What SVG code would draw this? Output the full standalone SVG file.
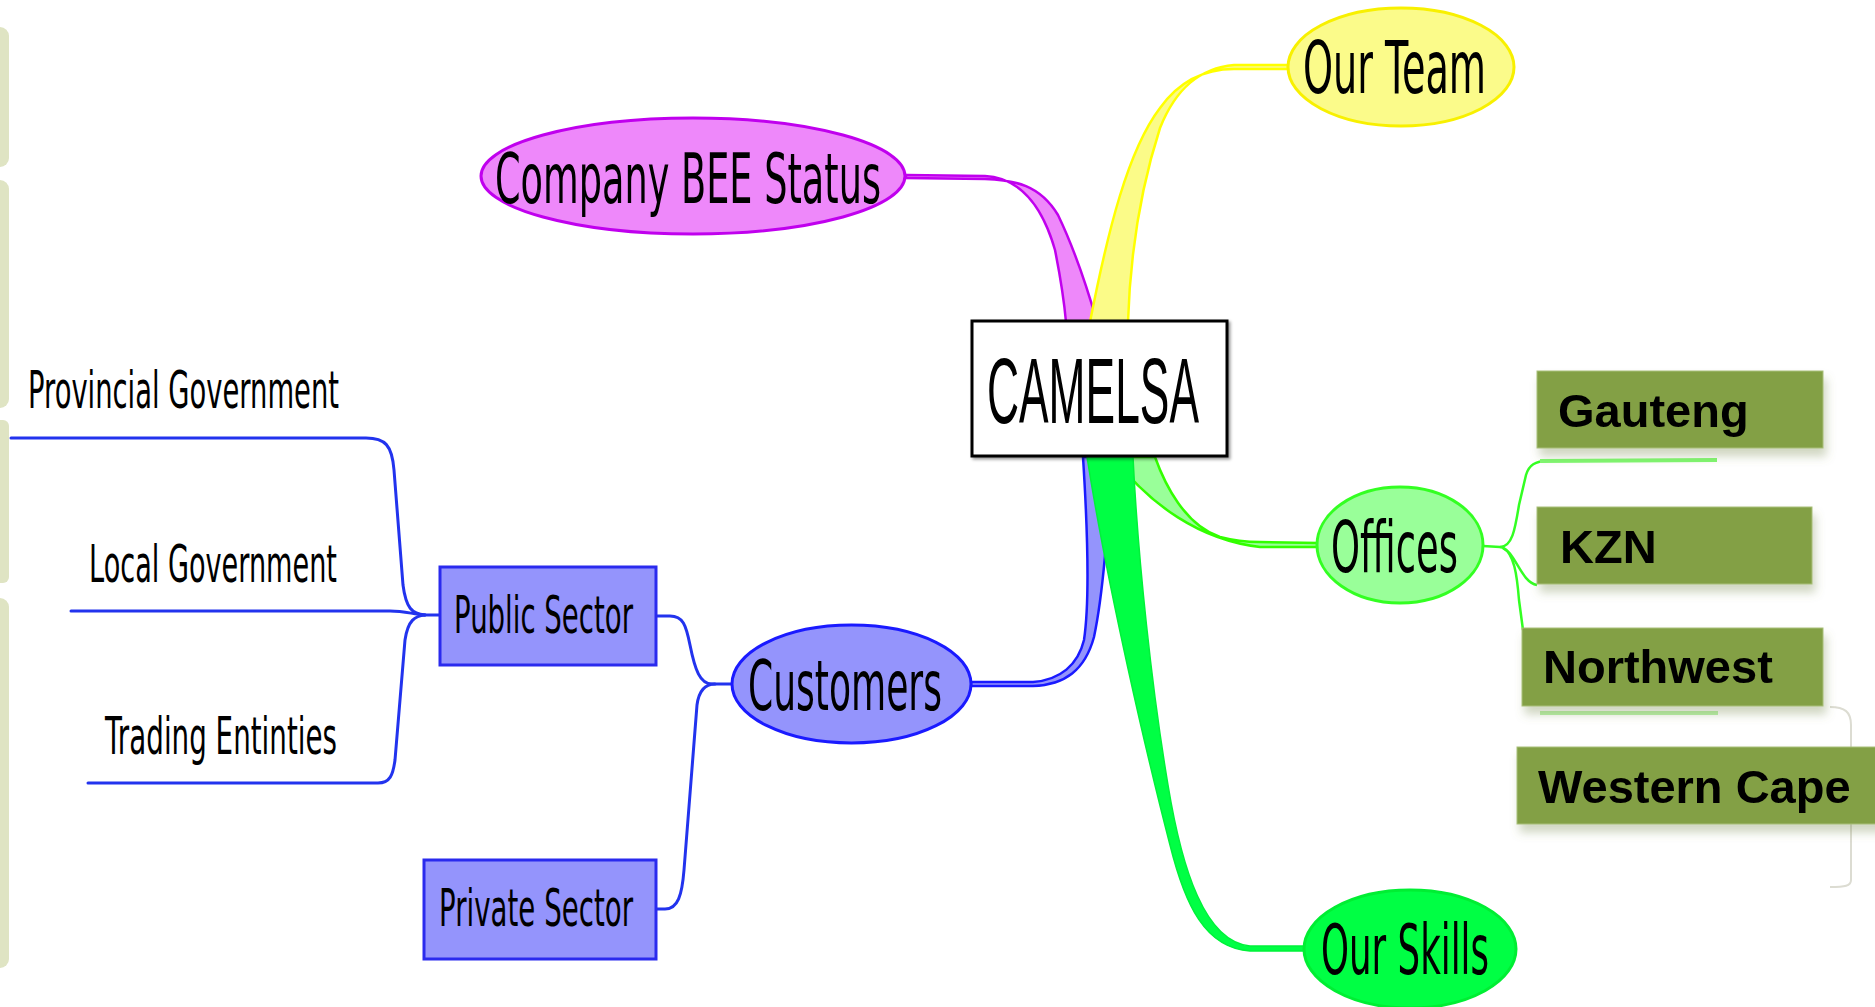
<svg xmlns="http://www.w3.org/2000/svg" width="1875" height="1007" viewBox="0 0 1875 1007">
<style>
.lbl{font-family:"DejaVu Sans","Liberation Sans",sans-serif;fill:#000}
.gbox{fill:#83a044;stroke:#a8bf78;stroke-width:1}
.gtxt{font-family:"Liberation Sans",Arial,sans-serif;font-weight:bold;font-size:47px;fill:#000}
.bl{fill:none;stroke:#2233ee;stroke-width:3;stroke-linecap:round}
.gl{fill:none;stroke:#33ff22;stroke-width:2.5}
.strip{fill:#dfe4c3}
</style>
<defs>
<filter id="sh" x="-10%" y="-20%" width="130%" height="160%">
<feDropShadow dx="3" dy="8" stdDeviation="5" flood-color="#7a8a50" flood-opacity="0.35"/>
</filter>
<filter id="bsh" x="-5%" y="-5%" width="115%" height="120%">
<feDropShadow dx="2" dy="2" stdDeviation="1.5" flood-color="#000" flood-opacity="0.4"/>
</filter>
</defs>
<rect width="1875" height="1007" fill="#fff"/>
<g id="decor">
<rect class="strip" x="-12" y="27" width="21" height="140" rx="9"/>
<rect class="strip" x="-12" y="180" width="21" height="228" rx="9"/>
<rect class="strip" x="-12" y="420" width="21" height="163" rx="6"/>
<rect class="strip" x="-12" y="598" width="21" height="370" rx="9"/>
<path d="M1830,707 C1845,707 1851,712 1851,725 L1851,880 C1851,886 1845,887 1830,887" fill="none" stroke="#dcdcd2" stroke-width="2"/>
</g>
<g id="connectors">
<path class="bl" d="M11,438 L366,438 C385,438 392,445 394,470 L403,585 C406,608 412,614 425,615 L440,615"/>
<path class="bl" d="M71,611 L390,611 C405,611 412,614 425,615"/>
<path class="bl" d="M88,783 L378,783 C390,783 393,775 395,760 L405,640 C408,620 415,616 425,615"/>
<path class="bl" d="M656,616 L670,616 C683,616 686,625 690,645 C695,670 700,684 712,684 L733,684"/>
<path class="bl" d="M656,909 L665,909 C678,909 682,895 684,870 L697,705 C699,690 705,684 715,684"/>
<path d="M971,682 L1033,682 C1060,680 1078,665 1084,640 C1090,600 1087,520 1083,457 L1112,457 C1108,520 1104,590 1094,637 C1085,670 1065,685 1033,686 L971,686 Z" fill="#9494fc" stroke="#1a1aff" stroke-width="2.5"/>
<path d="M1155,457 C1165,485 1185,525 1220,537 C1235,541 1245,542 1260,542 L1318,543 L1318,547 L1260,547 C1200,540 1150,505 1113,457 Z" fill="#99ff99" stroke="#33ff00" stroke-width="2.5"/>
<path d="M1087,457 L1133,457 C1138,560 1152,690 1168,785 C1182,870 1205,942 1250,946 L1305,946 L1305,951 L1250,951 C1205,948 1185,905 1170,845 C1148,760 1108,590 1087,457 Z" fill="#00ff44" stroke="#00f23a" stroke-width="1.5"/>
<path d="M906,175 L985,176 C1025,178 1045,215 1055,250 C1060,275 1064,300 1066,322 L1097,322 C1085,280 1070,240 1058,215 C1040,185 1015,180 985,179 L906,178 Z" fill="#ee88fa" stroke="#c000ee" stroke-width="2.5"/>
<path d="M1288,65 L1234,65 C1200,68 1176,88 1160,128 C1140,190 1130,260 1128,322 L1090,322 C1108,230 1128,150 1160,108 C1180,80 1205,69 1234,69 L1288,69 Z" fill="#fbfb88" stroke="#ffff00" stroke-width="2.5"/>
<path class="gl" d="M1483,546 L1500,547 C1512,547 1515,530 1519,505 L1526,475 C1529,465 1535,461 1548,461"/>
<path d="M1540,461 L1717,460" fill="none" stroke="#80f870" stroke-width="4"/>
<path class="gl" d="M1500,547 C1515,549 1520,582 1537,585"/>
<path class="gl" d="M1503,548 C1514,553 1517,575 1519,600 L1523,630"/>
<path d="M1540,713 L1718,713" fill="none" stroke="#b8f2a8" stroke-width="4"/>
</g>
<g id="node-camelsa">
<rect x="972" y="321" width="255" height="135" fill="#fff" stroke="#000" stroke-width="3" filter="url(#bsh)"/>
<text x="987" y="423" font-family="'Liberation Sans',Arial,sans-serif" font-size="93" textLength="212" lengthAdjust="spacingAndGlyphs" fill="#000">CAMELSA</text>
</g>
<g id="node-bee">
<ellipse cx="693" cy="176" rx="212" ry="58" fill="#ee88fa" stroke="#c000ee" stroke-width="3"/>
<text class="lbl" x="495" y="203" font-size="70" textLength="386" lengthAdjust="spacingAndGlyphs">Company BEE Status</text>
</g>
<g id="node-team">
<ellipse cx="1401" cy="67" rx="113" ry="59" fill="#fbfb8a" stroke="#f8f000" stroke-width="3"/>
<text class="lbl" x="1303" y="93" font-size="73" textLength="183" lengthAdjust="spacingAndGlyphs">Our Team</text>
</g>
<g id="node-offices">
<ellipse cx="1400" cy="545" rx="83" ry="58" fill="#99ff99" stroke="#33ff22" stroke-width="3"/>
<text class="lbl" transform="translate(1331,572) scale(0.518,1)" x="0" y="0" font-size="71" textLength="245" lengthAdjust="spacingAndGlyphs">Offices</text>
</g>
<g id="node-skills">
<ellipse cx="1410" cy="949" rx="106" ry="59" fill="#00ff44" stroke="#00ee33" stroke-width="3"/>
<text class="lbl" x="1321" y="974" font-size="69" textLength="168" lengthAdjust="spacingAndGlyphs">Our Skills</text>
</g>
<g id="node-customers">
<ellipse cx="851.5" cy="684" rx="119.5" ry="59" fill="#9494fc" stroke="#1a1aff" stroke-width="3"/>
<text class="lbl" x="748" y="710" font-size="70" textLength="194" lengthAdjust="spacingAndGlyphs">Customers</text>
</g>
<g id="node-public">
<rect x="440" y="567" width="216" height="98" fill="#9494fc" stroke="#2a2aee" stroke-width="3"/>
<text class="lbl" x="454" y="633" font-size="51" textLength="179" lengthAdjust="spacingAndGlyphs">Public Sector</text>
</g>
<g id="node-private">
<rect x="424" y="860" width="232" height="99" fill="#9494fc" stroke="#2a2aee" stroke-width="3"/>
<text class="lbl" x="439" y="926" font-size="52" textLength="194" lengthAdjust="spacingAndGlyphs">Private Sector</text>
</g>
<g id="node-provincial">
<text class="lbl" x="28" y="408" font-size="52" textLength="311" lengthAdjust="spacingAndGlyphs">Provincial Government</text>
</g>
<g id="node-local">
<text class="lbl" x="89" y="582" font-size="52" textLength="248" lengthAdjust="spacingAndGlyphs">Local Government</text>
</g>
<g id="node-trading">
<text class="lbl" x="105" y="754" font-size="52" textLength="232" lengthAdjust="spacingAndGlyphs">Trading Entinties</text>
</g>
<g id="node-gauteng" filter="url(#sh)">
<rect class="gbox" x="1537" y="371" width="286" height="77"/>
<text class="gtxt" x="1558" y="427">Gauteng</text>
</g>
<g id="node-kzn" filter="url(#sh)">
<rect class="gbox" x="1537" y="507" width="275" height="77"/>
<text class="gtxt" x="1560" y="563">KZN</text>
</g>
<g id="node-northwest" filter="url(#sh)">
<rect class="gbox" x="1522" y="628" width="301" height="78"/>
<text class="gtxt" x="1543" y="683">Northwest</text>
</g>
<g id="node-westerncape" filter="url(#sh)">
<rect class="gbox" x="1517" y="747" width="370" height="77"/>
<text class="gtxt" x="1538" y="803">Western Cape</text>
</g>
</svg>
